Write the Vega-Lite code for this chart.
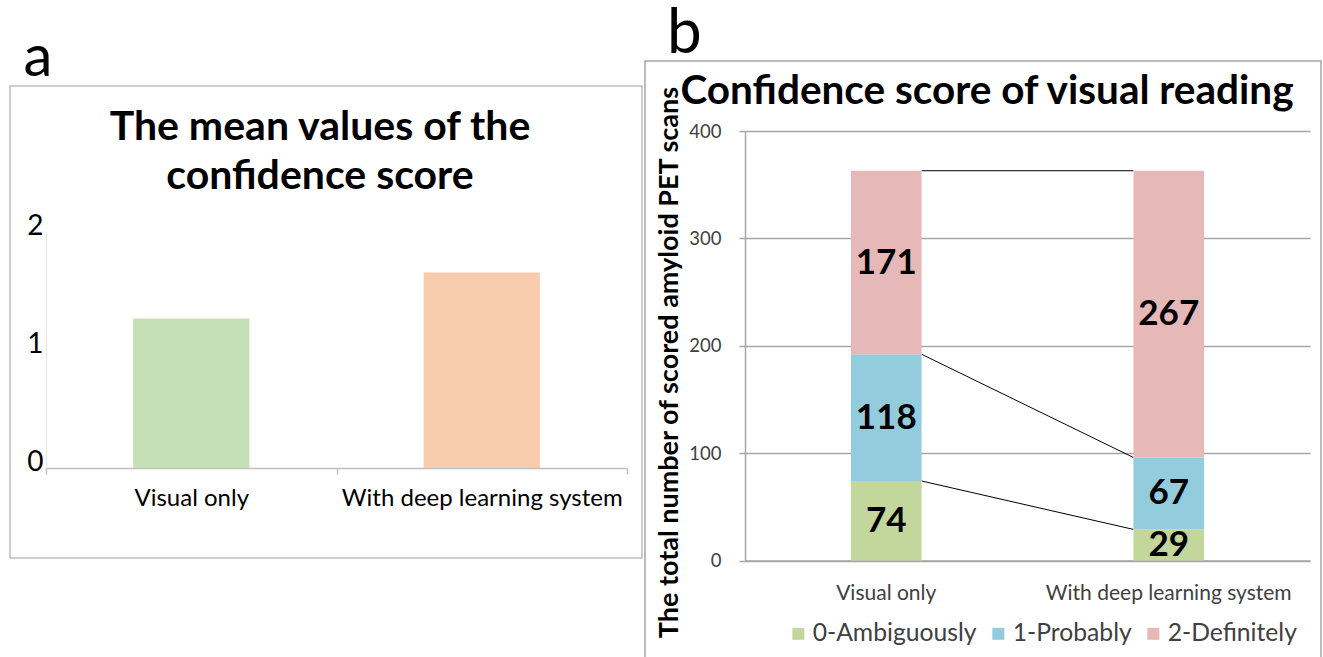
{
  "$schema": "https://vega.github.io/schema/vega-lite/v6.json",
  "padding": {"left": 9, "top": 3, "right": 0, "bottom": 0},
  "background": "white",
  "spacing": 1,
  "config": {
    "font": "Lato",
    "view": {"stroke": null},
    "axis": {"labelFont": "Lato", "titleFont": "Lato"},
    "title": {"font": "Lato"},
    "legend": {"labelFont": "Lato"}
  },
  "resolve": {"scale": {"color": "independent", "x": "independent", "y": "independent"}, "legend": {"color": "independent"}},
  "datasets": {
    "means": [
      {"condition": "Visual only", "mean": 1.267},
      {"condition": "With deep learning system", "mean": 1.656}
    ],
    "counts": [
      {"condition": "Visual only", "score": "0-Ambiguously", "n": 74},
      {"condition": "Visual only", "score": "1-Probably", "n": 118},
      {"condition": "Visual only", "score": "2-Definitely", "n": 171},
      {"condition": "With deep learning system", "score": "0-Ambiguously", "n": 29},
      {"condition": "With deep learning system", "score": "1-Probably", "n": 67},
      {"condition": "With deep learning system", "score": "2-Definitely", "n": 267}
    ],
    "links": [
      {"from": "Visual only", "to": "With deep learning system", "left": 363, "right": 363},
      {"from": "Visual only", "to": "With deep learning system", "left": 192, "right": 96},
      {"from": "Visual only", "to": "With deep learning system", "left": 74, "right": 29}
    ]
  },
  "hconcat": [
    {
      "bounds": "flush",
      "spacing": 24,
      "vconcat": [
        {
          "width": 632,
          "height": 1,
          "view": {"stroke": null},
          "data": {"values": [{}]},
          "mark": {"type": "rule", "opacity": 0},
          "encoding": {}
        },
        {
          "width": 632,
          "height": 472,
          "view": {"stroke": "#BFBFBF", "strokeWidth": 1.5},
          "title": {"text": ["The mean values of the", "confidence score"], "fontSize": 41, "fontWeight": "bold", "lineHeight": 49, "anchor": "middle", "frame": "group", "offset": -169, "dx": -6, "color": "black"},
          "data": {"name": "means"},
          "mark": {"type": "bar", "width": {"band": 0.4}},
          "encoding": {
            "x": {
              "field": "condition", "type": "nominal",
              "scale": {"range": [36, 617], "paddingInner": 0, "paddingOuter": 0},
              "axis": {"orient": "bottom", "offset": -90, "title": null, "labelAngle": 0, "labelFontSize": 24, "labelLimit": 500, "labelColor": "black", "labelPadding": 12, "domainColor": "#BFBFBF", "domainWidth": 1.5, "tickColor": "#BFBFBF", "tickSize": 6, "tickWidth": 1.5, "tickBand": "extent", "grid": false}
            },
            "y": {
              "field": "mean", "type": "quantitative",
              "scale": {"domain": [0, 2], "range": [382, 146], "nice": false},
              "axis": {"orient": "left", "offset": -36, "title": "a", "titleAngle": 0, "titleFontSize": 58, "titleFontWeight": "normal", "titleColor": "black", "titleX": -23, "titleY": -11, "titleAlign": "left", "titleBaseline": "alphabetic", "values": [0, 1, 2], "labelExpr": "format(datum.value, '.0f')", "labelOverlap": false, "labelFontSize": 28, "labelColor": "black", "labelPadding": 3, "labelOffset": -6, "ticks": false, "domainColor": "#E6E6E6", "grid": false}
            },
            "color": {"field": "condition", "type": "nominal", "scale": {"domain": ["Visual only", "With deep learning system"], "range": ["#C5E0B4", "#F8CBAD"]}, "legend": null}
          }
        }
      ]
    },
    {
      "title": {"text": "b", "fontSize": 62, "fontWeight": "normal", "anchor": "start", "frame": "group", "dx": 22, "offset": -6, "color": "black"},
      "vconcat": [
        {
          "width": 676,
          "height": 601,
          "view": {"stroke": "#A6A6A6", "strokeWidth": 1.5},
          "title": {"text": "Confidence score of visual reading", "fontSize": 40.5, "fontWeight": "bold", "anchor": "middle", "frame": "group", "offset": -51, "dx": 4, "color": "black"},
          "encoding": {
            "x": {
              "field": "condition", "type": "nominal",
              "scale": {"range": [100, 665], "paddingInner": 0, "paddingOuter": 0},
              "axis": {"orient": "bottom", "offset": -101.5, "title": null, "labelAngle": 0, "labelFontSize": 21, "labelLimit": 500, "labelColor": "#404040", "labelPadding": 22, "ticks": false, "domainColor": "#A6A6A6", "domainWidth": 1.5, "grid": false}
            }
          },
          "layer": [
            {
              "data": {"name": "counts"},
              "mark": {"type": "bar", "width": {"band": 0.25}},
              "encoding": {
                "y": {
                  "field": "n", "type": "quantitative", "stack": "zero",
                  "scale": {"domain": [0, 400], "range": [499.5, 70], "nice": false},
                  "axis": {"orient": "left", "offset": -100, "title": "The total number of scored amyloid PET scans", "titleFontSize": 27, "titleFontWeight": "bold", "titleColor": "black", "titleAngle": -90, "titleX": -76, "titleY": 301, "titleBaseline": "middle", "titleAlign": "center", "values": [0, 100, 200, 300, 400], "labelOverlap": false, "labelFontSize": 18.5, "labelColor": "#404040", "labelPadding": 18, "tickSize": 6, "tickColor": "#A6A6A6", "tickWidth": 1.5, "domainColor": "#A6A6A6", "domainWidth": 1.5, "grid": true, "gridColor": "#A6A6A6", "gridWidth": 1.5}
                },
                "order": {"field": "score", "type": "nominal", "sort": "ascending"},
                "color": {
                  "field": "score", "type": "nominal",
                  "scale": {"domain": ["0-Ambiguously", "1-Probably", "2-Definitely"], "range": ["#C3D69B", "#93CDDD", "#E6B9B8"]},
                  "legend": {"orient": "none", "legendX": 141, "legendY": 560, "direction": "horizontal", "title": null, "symbolType": "square", "symbolSize": 144, "symbolStrokeWidth": 0, "symbolOpacity": 1, "labelFontSize": 24.7, "labelColor": "#404040", "columnPadding": 9, "labelOffset": 2, "labelLimit": 500}
                }
              }
            },
            {
              "data": {"name": "counts"},
              "mark": {"type": "text", "fontSize": 35, "fontWeight": "bold", "color": "black", "baseline": "middle", "align": "center"},
              "encoding": {
                "y": {"field": "n", "type": "quantitative", "stack": "zero", "bandPosition": 0.5},
                "order": {"field": "score", "type": "nominal", "sort": "ascending"},
                "detail": {"field": "score", "type": "nominal"},
                "text": {"field": "n", "type": "quantitative"}
              }
            },
            {
              "data": {"name": "links"},
              "mark": {"type": "rule", "color": "black", "strokeWidth": 1, "xOffset": 35.5, "x2Offset": -35.5},
              "encoding": {
                "x": {"field": "from", "type": "nominal"},
                "x2": {"field": "to"},
                "y": {"field": "left", "type": "quantitative"},
                "y2": {"field": "right"}
              }
            }
          ]
        }
      ]
    }
  ]
}
